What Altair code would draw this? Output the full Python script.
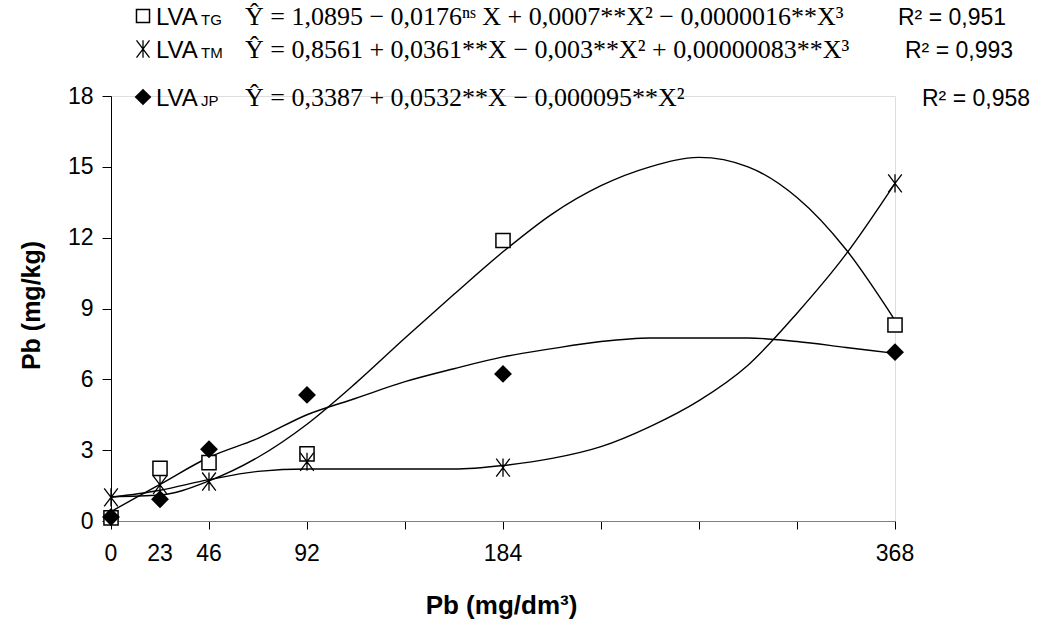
import altair as alt
import pandas as pd

# ---- data ----
x_levels = [0, 23, 46, 92, 184, 368]
tg_obs = [0.13, 2.23, 2.47, 2.84, 11.88, 8.3]
tm_obs = [1.0, 1.53, 1.67, 2.51, 2.26, 14.3]
jp_obs = [0.17, 0.92, 3.04, 5.34, 6.23, 7.15]

curve_x = [0, 23, 46, 69, 92, 115, 138, 161, 184, 207, 230, 253, 276, 299, 322, 345, 368]
tg_fit = [1.03, 1.1, 1.7, 2.7, 4.1, 5.85, 7.75, 9.6, 11.4, 13.0, 14.2, 15.0, 15.4, 15.0, 13.7, 11.5, 8.5]
tm_fit = [1.0, 1.3, 1.75, 2.1, 2.2, 2.2, 2.2, 2.2, 2.35, 2.65, 3.15, 4.0, 5.1, 6.6, 8.8, 11.3, 14.3]
jp_fit = [0.4, 1.55, 2.7, 3.5, 4.5, 5.2, 5.9, 6.45, 6.95, 7.3, 7.6, 7.75, 7.75, 7.75, 7.6, 7.35, 7.1]

x_tick_values = [0, 46, 92, 138, 184, 230, 276, 322, 368]
x_tick_labels = [0, 23, 46, 92, 184, 368]
y_tick_values = [0, 3, 6, 9, 12, 15, 18]

eq_tg = "Ŷ = 1,0895 − 0,0176ⁿˢ X + 0,0007**X² − 0,0000016**X³"
eq_tm = "Ŷ = 0,8561 + 0,0361**X − 0,003**X² + 0,00000083**X³"
eq_jp = "Ŷ = 0,3387 + 0,0532**X − 0,000095**X²"
r2_texts = ["R²  =  0,951", "R²  =  0,993", "R²  =  0,958"]

W, H = 784, 425
SANS = "Liberation Sans"
SERIF = "Liberation Serif"

fit_df = pd.DataFrame({
    "x": curve_x * 3,
    "y": tg_fit + tm_fit + jp_fit,
    "s": ["TG"] * len(curve_x) + ["TM"] * len(curve_x) + ["JP"] * len(curve_x),
})
obs = {
    "TG": pd.DataFrame({"x": x_levels, "y": tg_obs}),
    "TM": pd.DataFrame({"x": x_levels, "y": tm_obs}),
    "JP": pd.DataFrame({"x": x_levels, "y": jp_obs}),
}

xs = alt.Scale(domain=[0, 368], nice=False, zero=False)
ys = alt.Scale(domain=[0, 18], nice=False)

ASTER = "M-0.75,-1L0.75,1M-0.75,1L0.75,-1M0,-1L0,1"

x_axis = alt.Axis(values=x_tick_values, labels=False, grid=False, tickSize=8,
                  domainColor="#808080", tickColor="black", tickWidth=1,
                  title="Pb (mg/dm³)", titleFont=SANS, titleFontSize=26, titleFontWeight="bold",
                  titleX=W / 2 - 2, titleY=84, titleAlign="center", titleBaseline="middle")
y_axis = alt.Axis(values=y_tick_values, grid=False, tickSize=9, domainColor="black",
                  tickColor="black", labelFont=SANS, labelFontSize=23, labelPadding=9,
                  labelColor="black",
                  title="Pb (mg/kg)", titleFont=SANS, titleFontSize=25, titleFontWeight="bold",
                  titleX=-80, titleY=209, titleAngle=270, titleAlign="center",
                  titleBaseline="middle")

lines = alt.Chart(fit_df).mark_line(color="black", strokeWidth=1.4, interpolate="monotone").encode(
    x=alt.X("x:Q", scale=xs, axis=x_axis),
    y=alt.Y("y:Q", scale=ys, axis=y_axis),
    detail="s:N",
)

def pts(df, shape, size, filled, sw=1.5):
    return alt.Chart(df).mark_point(shape=shape, size=size, filled=filled, color="black",
                                    strokeWidth=sw, opacity=1, fill="black" if filled else "white").encode(
        x=alt.X("x:Q", scale=xs), y=alt.Y("y:Q", scale=ys))

p_tg = pts(obs["TG"], "square", 200, False)
p_tm = pts(obs["TM"], ASTER, 330, False, 1.3)
p_jp = pts(obs["JP"], "diamond", 320, True)

xlab = alt.Chart(pd.DataFrame({"v": x_tick_labels})).mark_text(
    font=SANS, fontSize=23, baseline="middle", align="center", color="black").encode(
    x=alt.X("v:Q", scale=xs), y=alt.value(H + 33), text="v:Q")

dummy = pd.DataFrame({"a": [0]})

def txt(t, x, y, font, size, align="left", weight="normal"):
    return alt.Chart(dummy).mark_text(text=t, font=font, fontSize=size, align=align,
                                      baseline="alphabetic", color="black", fontWeight=weight).encode(
        x=alt.value(x), y=alt.value(y))

def sym(shape, x, y, size, filled, sw=1.5):
    return alt.Chart(dummy).mark_point(shape=shape, size=size, filled=filled, color="black",
                                       strokeWidth=sw, opacity=1,
                                       fill="black" if filled else "white").encode(
        x=alt.value(x), y=alt.value(y))

OX, OY = 111, 96  # plot origin in the page
rows_y = [25, 58, 106]  # baselines in page pixels
r2_x = [898, 905, 922]
legend = []
for i, (shape, size, filled, sw, sub, eq) in enumerate([
        ("square", 170, False, 1.5, "TG", eq_tg),
        (ASTER, 300, False, 1.3, "TM", eq_tm),
        ("diamond", 280, True, 1.5, "JP", eq_jp)]):
    by = rows_y[i]
    legend.append(sym(shape, 143 - OX, by - 9 - OY, size, filled, sw))
    legend.append(txt("LVA", 156 - OX, by - OY, SANS, 24))
    legend.append(txt(sub, 201 - OX, by - OY, SANS, 15))
    legend.append(txt(eq, 245 - OX, by - OY, SERIF, 26))
    legend.append(txt(r2_texts[i], r2_x[i] - OX, by - OY, SANS, 23))

chart = alt.layer(lines, p_tg, p_tm, p_jp, xlab, *legend).properties(
    width=W, height=H,
    padding={"left": OX, "top": OY, "right": 1042 - OX - W, "bottom": 619 - OY - H},
    autosize=alt.AutoSizeParams(type="none"),
).configure_view(stroke=None).configure(background="white")

chart.save("out.html", embed_options={"renderer": "svg", "actions": False})
